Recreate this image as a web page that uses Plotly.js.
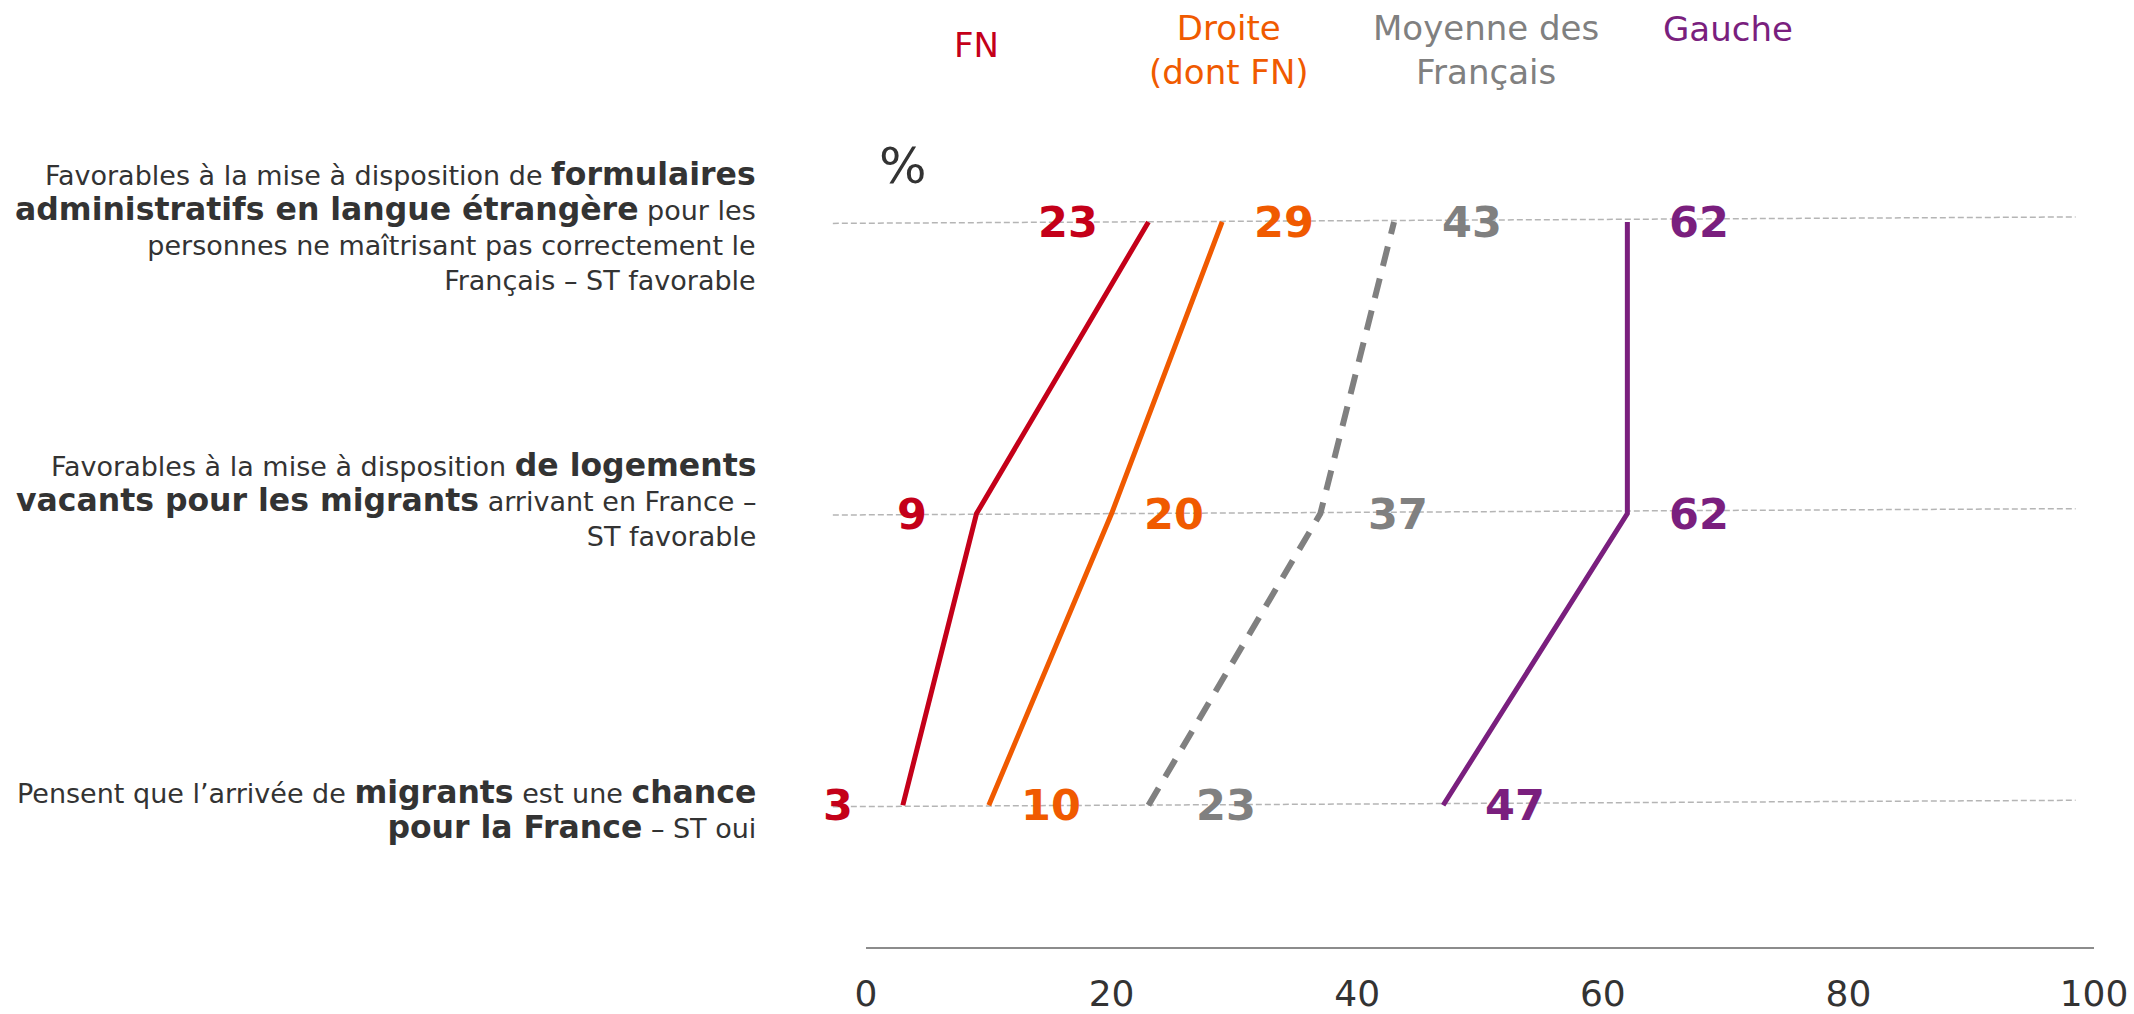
<!DOCTYPE html>
<html><head><meta charset="utf-8">
<script src="https://cdn.plot.ly/plotly-3.0.1.min.js"></script>
<style>html,body{margin:0;padding:0;background:#fff;}#chart{width:2134px;height:1014px;}</style>
</head><body><div id="chart"></div>
<script>
// Rows, bottom to top
const rowLabels = [
  'Pensent que l\u2019arrivée de <b><span style="font-size:31.5px">migrants</span></b> est une <b><span style="font-size:31.5px">chance</span></b><br><b><span style="font-size:31.5px">pour la France</span></b> \u2013 ST oui',
  'Favorables à la mise à disposition <b><span style="font-size:31.5px">de logements</span></b><br><b><span style="font-size:31.5px">vacants pour les migrants</span></b> arrivant en France \u2013<br>ST favorable',
  'Favorables à la mise à disposition de <b><span style="font-size:31.5px">formulaires</span></b><br><b><span style="font-size:31.5px">administratifs en langue étrangère</span></b> pour les<br>personnes ne maîtrisant pas correctement le<br>Français \u2013 ST favorable'
];
const seriesNames = ['FN', 'Droite<br>(dont FN)', 'Moyenne des<br>Français', 'Gauche'];
const fnValues = [3, 9, 23];
const droiteValues = [10, 20, 29];
const moyenneValues = [23, 37, 43];
const gaucheValues = [47, 62, 62];
const xTicks = [0, 20, 40, 60, 80, 100];

const rowsY = rowLabels.map((_, i) => i);
const colors = ['#C40019', '#F05A00', '#808080', '#7A1F7E'];
const allValues = [fnValues, droiteValues, moyenneValues, gaucheValues];
const dashes = ['solid', 'solid', '20px,13px', 'solid'];
const widths = [5, 5, 6, 5];

const traces = allValues.map((vals, s) => ({
  type: 'scatter', mode: 'lines', x: vals, y: rowsY,
  line: {color: colors[s], width: widths[s], dash: dashes[s]},
  hoverinfo: 'skip', showlegend: false
}));

const FONT = 'DejaVu Sans, Verdana, sans-serif';
const annotations = [];
// value labels
const labelShift = [-48, 30, 46, 40];
allValues.forEach((vals, s) => {
  vals.forEach((v, i) => {
    annotations.push({
      xref: 'x', yref: 'y', x: v, y: rowsY[i], text: '<b>' + v + '</b>',
      showarrow: false, xanchor: s === 0 ? 'right' : 'left', yanchor: 'middle',
      xshift: labelShift[s], font: {family: FONT, size: 43, color: colors[s]}
    });
  });
});
// row labels
const rowLabelShift = [-4, 14, -4];
rowLabels.forEach((t, i) => {
  annotations.push({
    xref: 'paper', yref: 'y', x: -0.088, y: rowsY[i], text: t, showarrow: false,
    xanchor: 'right', yanchor: 'middle', align: 'right', yshift: rowLabelShift[i],
    font: {family: FONT, size: 27, color: '#333333'}
  });
});
// series headers
const headerX = [9.0, 29.6, 50.5, 70.2];
const headerY = [1.065, 1.059, 1.059, 1.084];
seriesNames.forEach((n, s) => {
  annotations.push({
    xref: 'x', yref: 'paper', x: headerX[s], y: headerY[s], text: n, showarrow: false,
    xanchor: 'center', yanchor: 'middle', align: 'center',
    font: {family: FONT, size: 34, color: colors[s]}
  });
});
// percent sign
annotations.push({
  xref: 'x', yref: 'paper', x: 3, y: 0.922, text: '%', showarrow: false,
  xanchor: 'center', yanchor: 'middle', font: {family: FONT, size: 50, color: '#333333'}
});

// dashed horizontal guides (slightly tilted as in the original)
const shapes = rowsY.map(r => ({
  type: 'line', xref: 'paper', yref: 'y', x0: -0.027, x1: 0.985,
  y0: r - 0.005, y1: r + 0.017,
  line: {color: '#b5b5b5', width: 1.5, dash: '6px,3px'}, layer: 'below'
}));

const layout = {
  width: 2134, height: 1014,
  margin: {l: 866, r: 40, t: 100, b: 67, pad: 0},
  paper_bgcolor: '#ffffff', plot_bgcolor: '#ffffff',
  xaxis: {
    range: [0, 100], tickvals: xTicks, ticktext: xTicks.map(String),
    showgrid: false, zeroline: false, showline: true, linecolor: '#8c8c8c', linewidth: 2,
    ticks: '', ticklabelstandoff: 14,
    tickfont: {family: FONT, size: 36, color: '#333333'}, fixedrange: true
  },
  yaxis: {
    range: [-0.486, 2.418], showgrid: false, zeroline: false, showline: false,
    showticklabels: false, ticks: '', fixedrange: true
  },
  annotations: annotations, shapes: shapes, showlegend: false
};

Plotly.newPlot('chart', traces, layout, {displayModeBar: false, staticPlot: true});
</script></body></html>
